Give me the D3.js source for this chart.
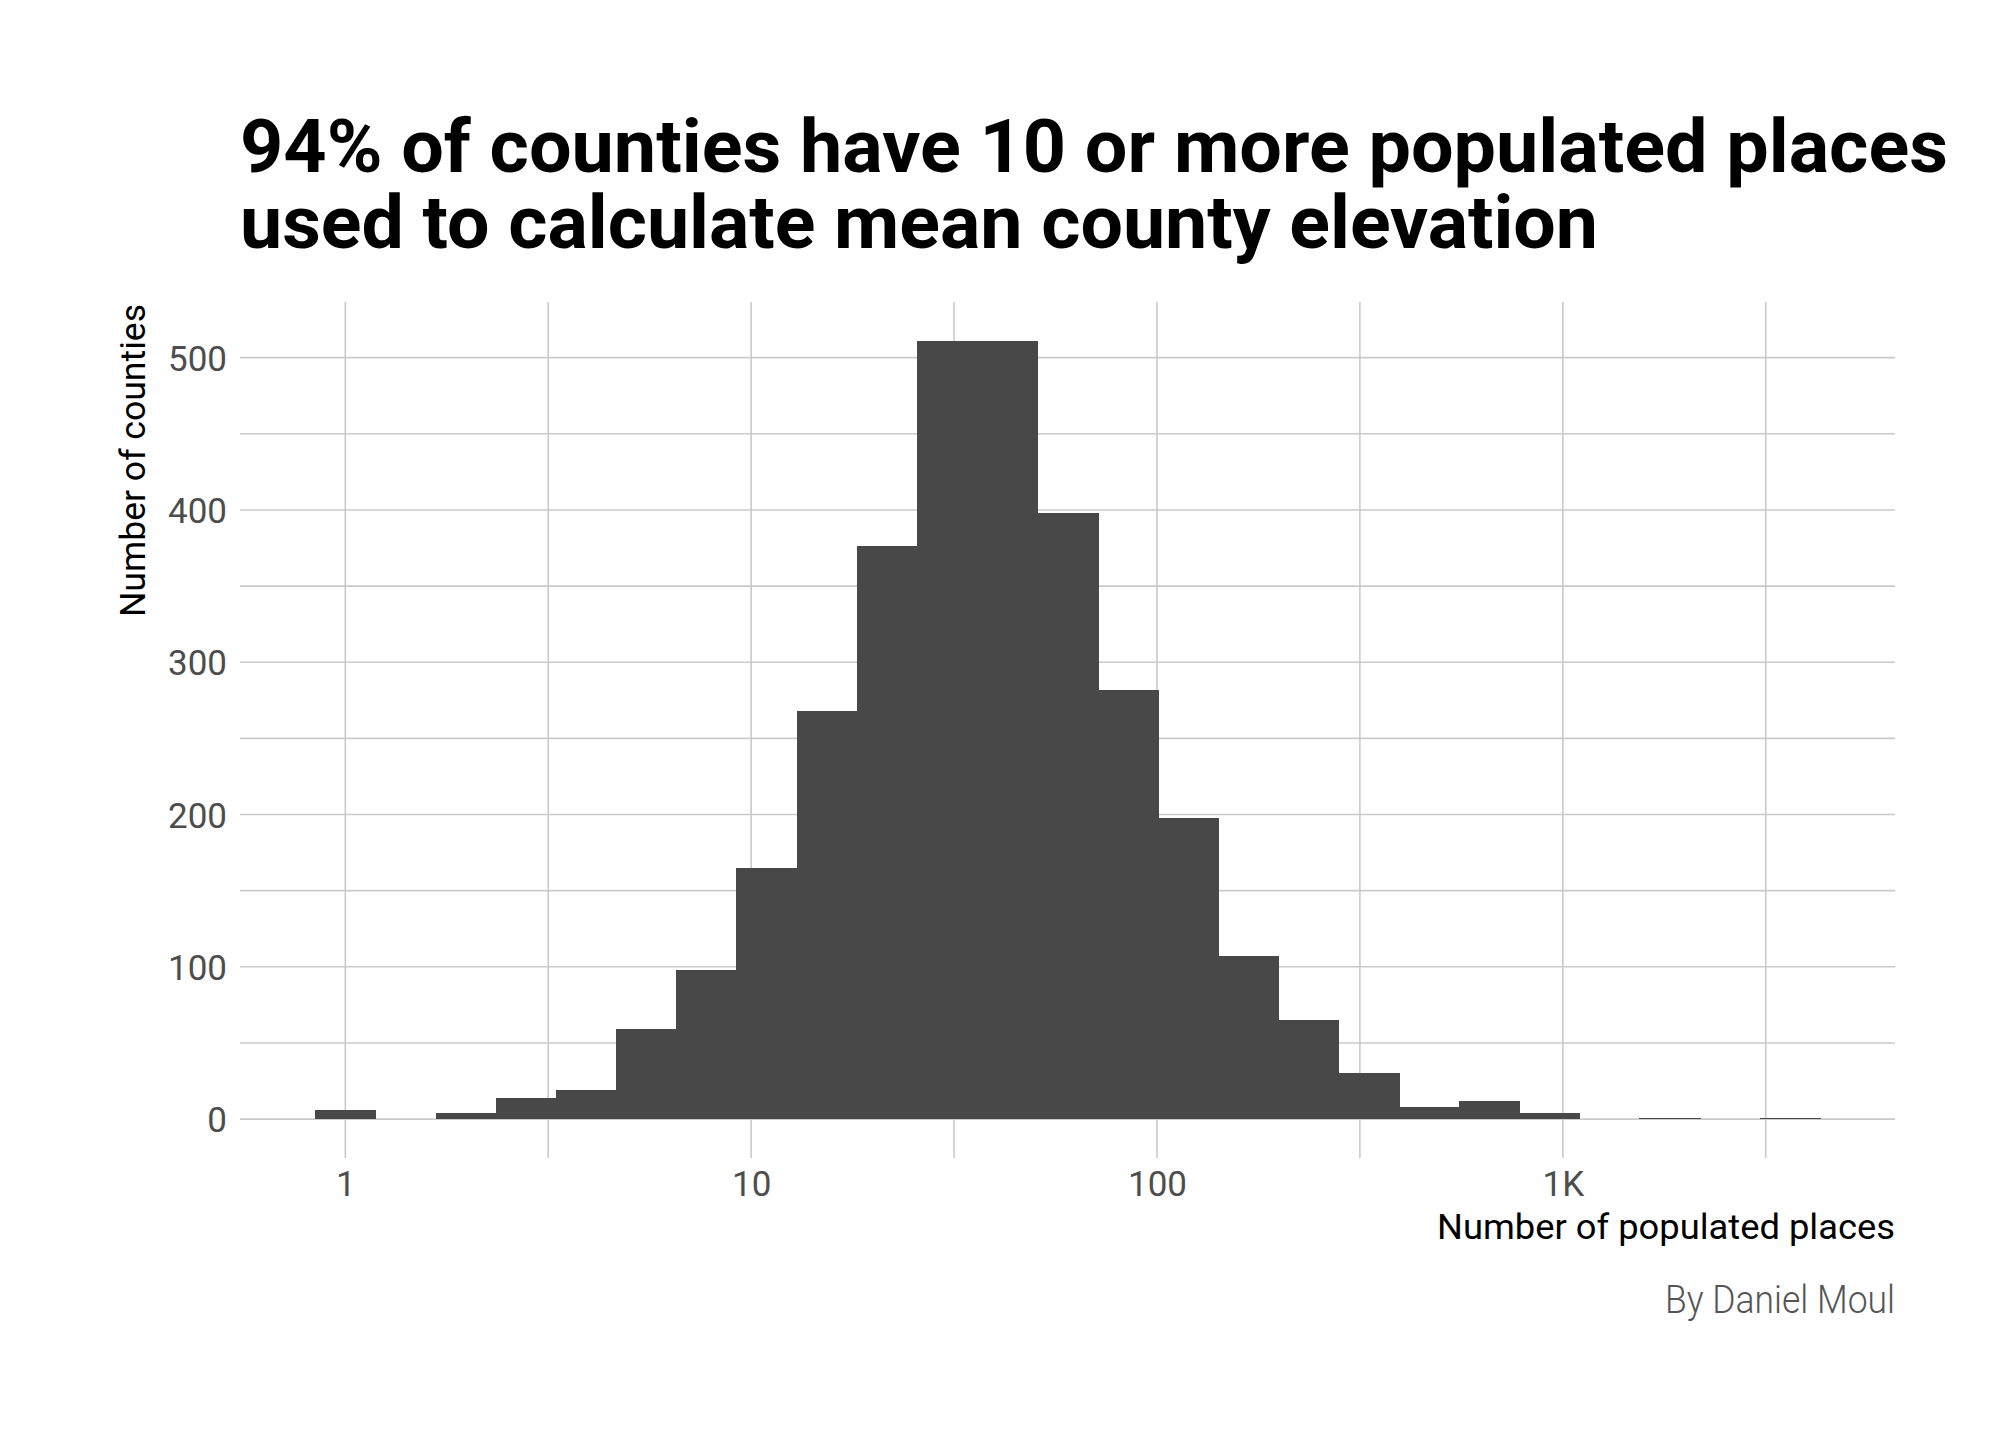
<!DOCTYPE html>
<html><head><meta charset="utf-8">
<script src="https://cdn.jsdelivr.net/npm/d3@7"></script>
<style>html,body{margin:0;padding:0;background:#fff;} svg{display:block;}</style>
</head><body>
<svg id="chart" width="2016" height="1440"></svg>
<script>
// ---------------- data ----------------
const titleLines = ["94% of counties have 10 or more populated places", "used to calculate mean county elevation"];
const xAxisTitle = "Number of populated places";
const yAxisTitle = "Number of counties";
const caption = "By Daniel Moul";

// histogram bins (centres in log10 of number of populated places)
const binCentersLog10 = [0, 0.148, 0.297, 0.445, 0.593, 0.742, 0.890, 1.038, 1.186, 1.335,
                         1.483, 1.631, 1.780, 1.928, 2.076, 2.225, 2.373, 2.521, 2.669, 2.818,
                         2.966, 3.114, 3.263, 3.411, 3.559];
const binWidthLog10 = 0.1483;
const counts = [6, 0, 4, 14, 19, 59, 98, 165, 268, 376,
                511, 511, 398, 282, 198, 107, 65, 30, 8, 12,
                4, 0, 1, 0, 1];

const xTickValues = [1, 10, 100, 1000];
const xTickLabels = ["1", "10", "100", "1K"];
const xMinorTickValues = [3.162, 31.62, 316.2, 3162];
const yTickValues = [0, 100, 200, 300, 400, 500];
const yMinorTickValues = [50, 150, 250, 350, 450];

// ---------------- layout ----------------
const W = 2016, H = 1440;
const panel = {left: 240, right: 1895, top: 302, bottom: 1158};
const FONT = "Roboto, 'Open Sans', sans-serif";
const gridColor = "#cacaca";
const barColor = "#484848";

const bins = binCentersLog10.map((c, i) => ({
  x0: Math.pow(10, c - binWidthLog10 / 2),
  x1: Math.pow(10, c + binWidthLog10 / 2),
  count: counts[i]
}));

const lo = Math.log10(d3.min(bins, d => d.x0));
const hi = Math.log10(d3.max(bins, d => d.x1));
const xPad = (hi - lo) * 0.05;
const x = d3.scaleLog()
  .domain([Math.pow(10, lo - xPad), Math.pow(10, hi + xPad)])
  .range([panel.left, panel.right]);

const yMax = d3.max(counts);
const yPad = yMax * 0.05;
const y = d3.scaleLinear()
  .domain([-yPad, yMax + yPad])
  .range([panel.bottom, panel.top]);

const svg = d3.select("#chart");
svg.append("rect").attr("width", W).attr("height", H).attr("fill", "#fff");

// ---------------- grid ----------------
const grid = svg.append("g").attr("stroke", gridColor).attr("stroke-width", 1.6);
grid.selectAll("line.ymin").data(yMinorTickValues).join("line")
  .attr("x1", panel.left).attr("x2", panel.right)
  .attr("y1", d => y(d)).attr("y2", d => y(d));
grid.selectAll("line.xmin").data(xMinorTickValues).join("line")
  .attr("y1", panel.top).attr("y2", panel.bottom)
  .attr("x1", d => x(d)).attr("x2", d => x(d));
grid.selectAll("line.ymaj").data(yTickValues).join("line")
  .attr("x1", panel.left).attr("x2", panel.right)
  .attr("y1", d => y(d)).attr("y2", d => y(d));
grid.selectAll("line.xmaj").data(xTickValues).join("line")
  .attr("y1", panel.top).attr("y2", panel.bottom)
  .attr("x1", d => x(d)).attr("x2", d => x(d));

// ---------------- bars ----------------
// each bar is widened by 1px so adjacent bins of equal height show no seam
svg.append("g").attr("fill", barColor).attr("shape-rendering", "crispEdges")
  .selectAll("rect").data(bins.filter(d => d.count > 0)).join("rect")
  .attr("x", d => Math.round(x(d.x0)))
  .attr("width", d => Math.round(x(d.x1)) - Math.round(x(d.x0)) + 1)
  .attr("y", d => y(d.count))
  .attr("height", d => y(0) - y(d.count));

// ---------------- axes ----------------
const xAxis = d3.axisBottom(x).tickValues(xTickValues)
  .tickFormat((d, i) => xTickLabels[i]).tickSize(0).tickPadding(0);
const gx = svg.append("g").attr("transform", `translate(0,${panel.bottom + 13})`).call(xAxis);
gx.select(".domain").remove();
gx.selectAll("text").attr("font-family", FONT).attr("font-size", 35)
  .attr("fill", "#4d4d4d").attr("dy", "0.71em");

const yAxis = d3.axisLeft(y).tickValues(yTickValues).tickSize(0).tickPadding(0);
const gy = svg.append("g").attr("transform", `translate(${panel.left - 13},0)`).call(yAxis);
gy.select(".domain").remove();
gy.selectAll("text").attr("font-family", FONT).attr("font-size", 35)
  .attr("fill", "#4d4d4d").attr("dy", "0.36em");

// ---------------- titles ----------------
const titleWidths = [1708, 1358];
svg.append("g").selectAll("text").data(titleLines).join("text")
  .attr("x", 240).attr("y", (d, i) => 172 + i * 76)
  .attr("font-family", FONT).attr("font-weight", 700).attr("font-size", 74)
  .attr("fill", "#000")
  .attr("textLength", (d, i) => titleWidths[i]).attr("lengthAdjust", "spacingAndGlyphs")
  .text(d => d);

svg.append("text")
  .attr("transform", `translate(145,${panel.top + 2}) rotate(-90)`)
  .attr("text-anchor", "end")
  .attr("font-family", FONT).attr("font-size", 35).attr("fill", "#000")
  .attr("textLength", 313).attr("lengthAdjust", "spacingAndGlyphs")
  .text(yAxisTitle);

svg.append("text")
  .attr("x", panel.right).attr("y", 1239).attr("text-anchor", "end")
  .attr("font-family", FONT).attr("font-size", 35).attr("fill", "#000")
  .attr("textLength", 458).attr("lengthAdjust", "spacingAndGlyphs")
  .text(xAxisTitle);

svg.append("text")
  .attr("x", panel.right).attr("y", 1313).attr("text-anchor", "end")
  .attr("font-family", FONT).attr("font-weight", 300).attr("font-size", 38).attr("fill", "#555")
  .attr("textLength", 230).attr("lengthAdjust", "spacingAndGlyphs")
  .text(caption);
</script>
</body></html>
